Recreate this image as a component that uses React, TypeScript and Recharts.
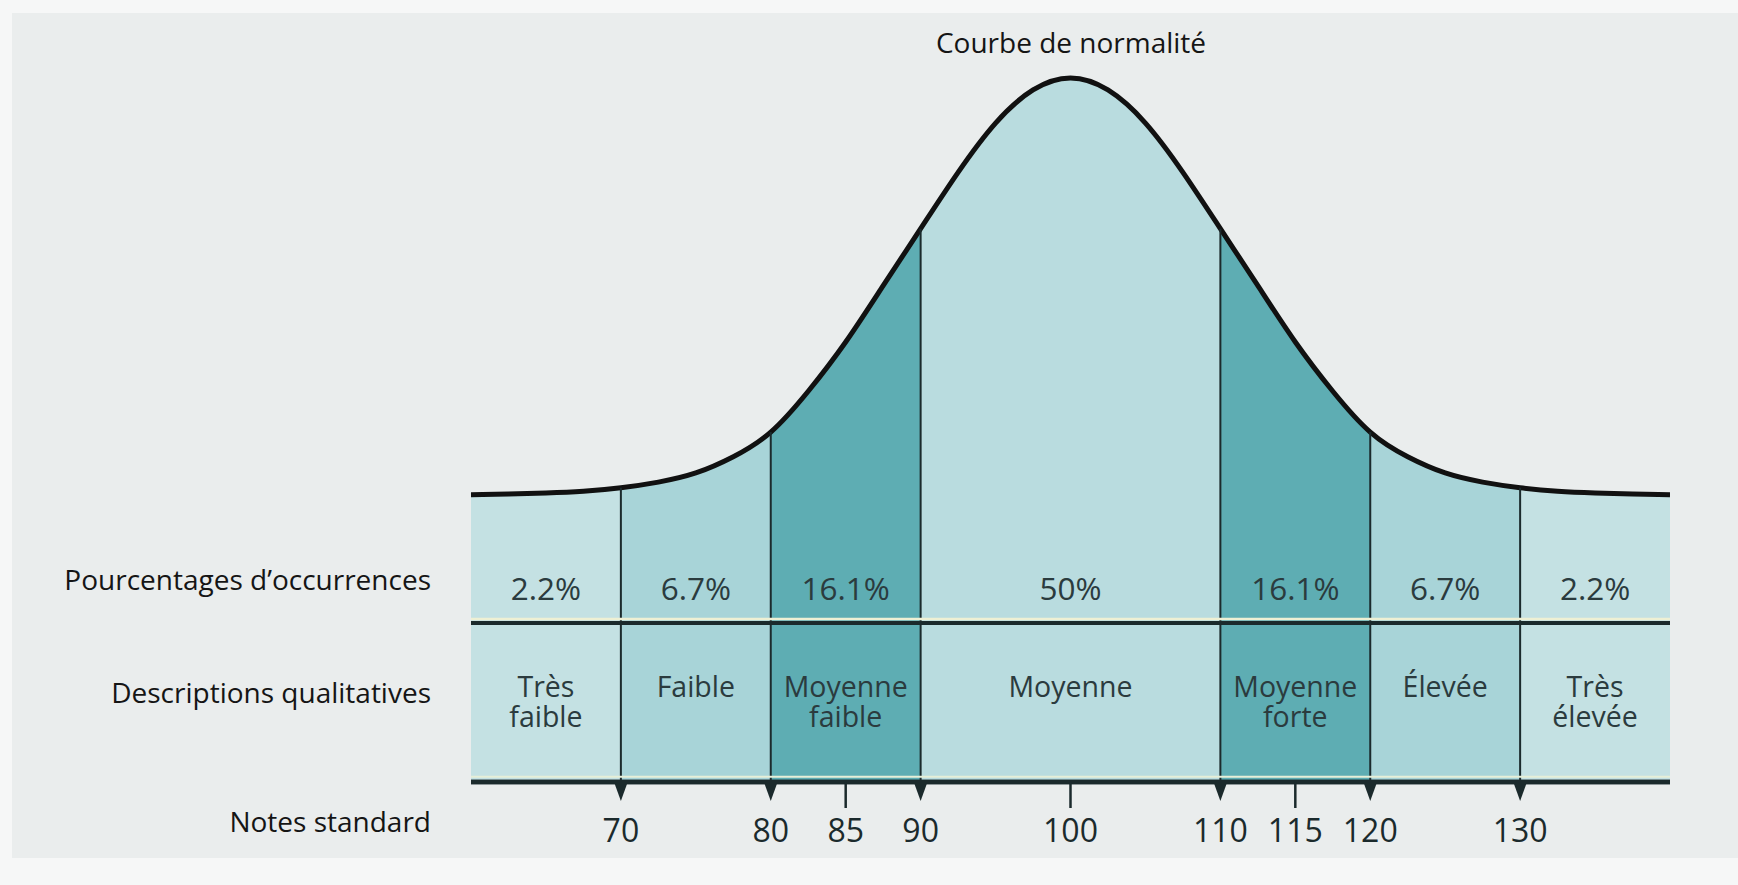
import React from 'react';
import { ComposedChart, Area, XAxis, YAxis, ReferenceLine, Scatter } from 'recharts';

// ---- Data ----
const scores = [60, 62.5, 65, 67.5, 70, 72.5, 75, 77.5, 80, 82.5, 85, 87.5, 90, 92.5, 95, 97.5, 100, 102.5, 105, 107.5, 110, 112.5, 115, 117.5, 120, 122.5, 125, 127.5, 130, 132.5, 135, 137.5, 140];
const curveHeight = [40.8, 40.9, 41.05, 41.3, 41.8, 42.6, 43.9, 46.2, 49.7, 55.5, 62.5, 70.5, 78.6, 86.6, 93.6, 98.3, 100, 98.3, 93.6, 86.6, 78.6, 70.5, 62.5, 55.5, 49.7, 46.2, 43.9, 42.6, 41.8, 41.3, 41.05, 40.9, 40.8];
const bandStart = [60, 70, 80, 90, 110, 120, 130];
const bandEnd = [70, 80, 90, 110, 120, 130, 140];
const occurrencePercent = ['2.2%', '6.7%', '16.1%', '50%', '16.1%', '6.7%', '2.2%'];
const qualitativeDescription = [['Très', 'faible'], ['Faible'], ['Moyenne', 'faible'], ['Moyenne'], ['Moyenne', 'forte'], ['Élevée'], ['Très', 'élevée']];
const standardScoreTicks = [70, 80, 85, 90, 100, 110, 115, 120, 130];
const rowTitles = ['Pourcentages d’occurrences', 'Descriptions qualitatives', 'Notes standard'];
const chartTitle = 'Courbe de normalité';

// ---- Styles / layout ----
const W = 1738;
const H = 885;
const FONT = '"Open Sans", "Noto Sans", sans-serif';
const INK = '#1b2a2c';
const CURVE = '#111111';
const TEXT_IN = '#2b3b3e';
const bandColors = ['#c4e1e3', '#a8d4d8', '#5eadb3', '#b9dcdf', '#5eadb3', '#a8d4d8', '#c4e1e3'];
const X_MIN = 60;
const X_MAX = 140;
const PCT_ROW_Y = 27.6; // in chart y-units
const DESC_ROW_Y = 13.6;
const DIVIDER_Y = 22.6;
const DESC_LINE = 30;

const curveData = scores.map((x, i) => ({ x, y: curveHeight[i] }));
const edges = bandStart.slice(1);
const edgeSet = new Set(edges);
const heightAt = (x: number) => curveHeight[scores.indexOf(x)];

const pctPoints = bandStart.map((s, i) => ({ x: (s + bandEnd[i]) / 2, y: PCT_ROW_Y, text: occurrencePercent[i] }));
const descPoints = bandStart.map((s, i) => ({ x: (s + bandEnd[i]) / 2, y: DESC_ROW_Y, lines: qualitativeDescription[i] }));

const StandardTick = (props: any) => {
  const { x, y, payload } = props;
  const v = payload.value;
  return (
    <g>
      {edgeSet.has(v) ? (
        <polygon points={`${x - 6.5},${y + 1} ${x + 6.5},${y + 1} ${x},${y + 19}`} fill={INK} />
      ) : (
        <line x1={x} y1={y} x2={x} y2={y + 26} stroke={INK} strokeWidth={2.5} />
      )}
      <text x={x} y={y + 47} textAnchor="middle" dominantBaseline="central" fontFamily={FONT} fontSize={32} fill={INK}>
        {v}
      </text>
    </g>
  );
};

const PctShape = (p: any) => (
  <text x={p.cx} y={p.cy} textAnchor="middle" dominantBaseline="central" fontFamily={FONT} fontSize={31.5} fill={TEXT_IN}>
    {p.payload.text}
  </text>
);

const DescShape = (p: any) => (
  <text textAnchor="middle" dominantBaseline="central" fontFamily={FONT} fontSize={28.5} fill={TEXT_IN}>
    {p.payload.lines.map((l: string, i: number) => (
      <tspan key={i} x={p.cx} y={p.cy + i * DESC_LINE}>
        {l}
      </tspan>
    ))}
  </text>
);

const labelStyle: React.CSSProperties = {
  position: 'absolute',
  left: 0,
  width: 431,
  textAlign: 'right',
  fontFamily: FONT,
  fontSize: 28,
  fontWeight: 500,
  color: '#151515',
  lineHeight: '40px',
  whiteSpace: 'nowrap',
};

const rowCenters = [579, 692, 821];

export default function App() {
  return (
    <div style={{ position: 'absolute', left: 0, top: 0, width: W, height: H, background: '#f6f7f7', overflow: 'hidden' }}>
      <div style={{ position: 'absolute', left: 12, top: 13, width: W - 12, height: 845, background: '#eaeded' }} />
      <div style={{ position: 'absolute', left: 0, top: 0 }}>
        <ComposedChart width={W} height={H} margin={{ top: 78, right: 68, left: 471, bottom: 0 }}>
          <defs>
            <linearGradient id="bandFill" x1="0" y1="0" x2="1" y2="0">
              {bandStart.map((s, i) => [
                <stop key={`a${i}`} offset={`${((s - X_MIN) / (X_MAX - X_MIN)) * 100}%`} stopColor={bandColors[i]} />,
                <stop key={`b${i}`} offset={`${((bandEnd[i] - X_MIN) / (X_MAX - X_MIN)) * 100}%`} stopColor={bandColors[i]} />,
              ])}
            </linearGradient>
          </defs>
          <XAxis
            dataKey="x"
            type="number"
            domain={[X_MIN, X_MAX]}
            ticks={standardScoreTicks}
            interval={0}
            height={103}
            tickLine={false}
            tickSize={0}
            tickMargin={0}
            axisLine={{ stroke: INK, strokeWidth: 4.5 }}
            tick={<StandardTick />}
          />
          <YAxis type="number" domain={[0, 100]} hide />
          <Area
            data={curveData}
            dataKey="y"
            type="natural"
            baseValue={0}
            stroke={CURVE}
            strokeWidth={5}
            fill="url(#bandFill)"
            fillOpacity={1}
            isAnimationActive={false}
            dot={false}
            activeDot={false}
          />
          {edges.map((e) => (
            <ReferenceLine
              key={e}
              segment={[{ x: e, y: 0 }, { x: e, y: heightAt(e) }]}
              stroke={INK}
              strokeWidth={2}
            />
          ))}
          <ReferenceLine y={DIVIDER_Y + 0.55} stroke="#eef0d4" strokeWidth={2.5} />
          <ReferenceLine y={DIVIDER_Y} stroke={INK} strokeWidth={4} />
          <ReferenceLine y={0.75} stroke="#e6efd8" strokeWidth={2} />
          <ReferenceLine y={0} stroke={INK} strokeWidth={4.5} />
          <Scatter data={pctPoints} dataKey="y" shape={PctShape} isAnimationActive={false} legendType="none" />
          <Scatter data={descPoints} dataKey="y" shape={DescShape} isAnimationActive={false} legendType="none" />
        </ComposedChart>
      </div>
      <div
        style={{
          position: 'absolute',
          left: 1071 - 250,
          width: 500,
          top: 22,
          textAlign: 'center',
          fontFamily: FONT,
          fontSize: 28,
          fontWeight: 500,
          color: '#151515',
          lineHeight: '40px',
        }}
      >
        {chartTitle}
      </div>
      {rowTitles.map((t, i) => (
        <div key={t} style={{ ...labelStyle, top: rowCenters[i] - 20 }}>
          {t}
        </div>
      ))}
    </div>
  );
}
